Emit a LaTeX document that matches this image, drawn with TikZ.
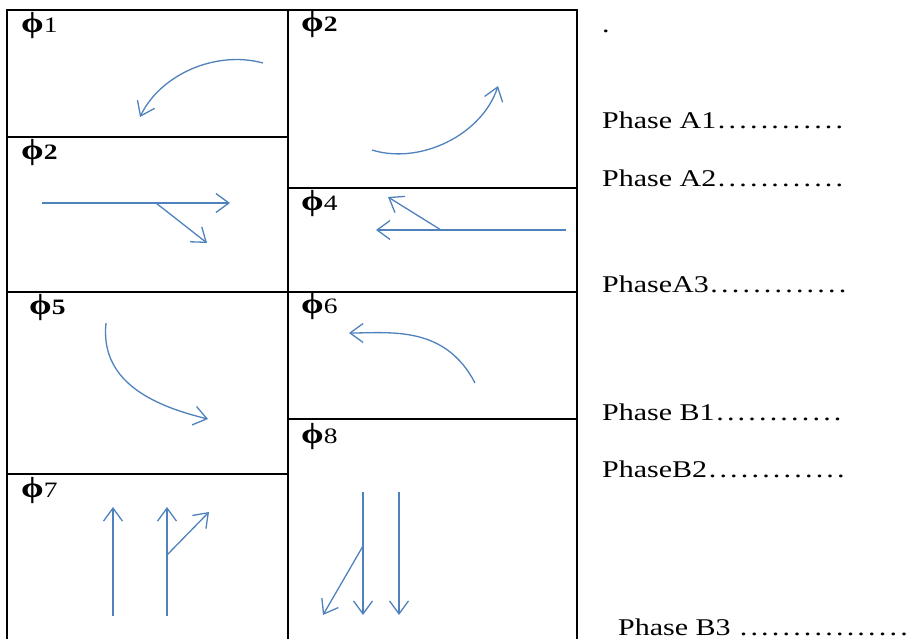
\documentclass[tikz,border=0pt]{standalone}
\usepackage{fontspec}
\setmainfont{Liberation Serif}[FakeStretch=1.25]
\usepackage{xcolor}
\usetikzlibrary{arrows.meta}

\definecolor{laneblue}{RGB}{79,129,189}
\newcommand\phasedots[1]{\hbox to #1\dimexpr10.7pt\relax{\xleaders\hbox to 10.7pt{\hss.\hss}\hfill}}
\newcommand\phig{{\fontsize{29}{30}\selectfont\bfseries ϕ}}

\begin{document}
\begin{tikzpicture}[
    x=1pt, y=-1pt,
    grid/.style={draw=black, line width=1.2pt},
    lane/.style={draw=laneblue, line width=1.3pt, -{Straight Barb[length=13pt,width=19pt]}},
    tag/.style={anchor=base west, inner sep=0pt, font=\fontsize{22}{26}\selectfont},
    phase/.style={anchor=base west, inner sep=0pt, font=\fontsize{24}{28}\selectfont}
]
\useasboundingbox (0,0) rectangle (912,639);
% table frame
\draw[grid] (7,639) -- (7,10) -- (577,10) -- (577,639);
\draw[grid] (288,10) -- (288,639);
\draw[grid] (7,137) -- (288,137);
\draw[grid] (7,292) -- (577,292);
\draw[grid] (7,474) -- (288,474);
\draw[grid] (288,188) -- (577,188);
\draw[grid] (288,419) -- (577,419);

% phase tags
\node[tag] (t1) at (21,33) {\phig1};
\node[tag] (t2a) at (21,160) {\phig\textbf{2}};
\node[tag] (t2b) at (301,32) {\phig\textbf{2}};
\node[tag] (t4) at (301,211) {\phig4};
\node[tag] (t5) at (29,314) {\phig\textbf{5}};
\node[tag] (t6) at (301,313) {\phig6};
\node[tag] (t7) at (21,497) {\phig7};
\node[tag] (t8) at (301,443) {\phig8};

% movements
\draw[lane] (263,63) .. controls (215,50) and (160,75) .. (140,117);
\draw[lane] (42,203) -- (230,203);
\draw[lane] (156,203) -- (207,243);
\draw[lane] (372,150) .. controls (420,165) and (482,135) .. (498,86);
\draw[lane] (566,230) -- (376,230);
\draw[lane] (441,230) -- (388,197);
\draw[lane] (106,323) .. controls (100,380) and (150,405) .. (208,419);
\draw[lane] (475,383) .. controls (445,325) and (390,333) .. (349,333);
\draw[lane] (113,616) -- (113,507);
\draw[lane] (167,616) -- (167,507);
\draw[lane] (167,555) -- (209,512);
\draw[lane] (363,492) -- (363,615);
\draw[lane] (399,492) -- (399,615);
\draw[lane] (363,546) -- (323,615);

% phase list
\node[phase] (dot) at (602,33) {.};
\node[phase] (a1) at (602,129) {Phase A1\phasedots{12}};
\node[phase] (a2) at (602,186) {Phase A2\phasedots{12}};
\node[phase] (a3) at (602,292) {PhaseA3\phasedots{13}};
\node[phase] (b1) at (602,420) {Phase B1\phasedots{12}};
\node[phase] (b2) at (602,477) {PhaseB2\phasedots{13}};
\node[phase] (b3) at (618,635) {Phase B3 \phasedots{16}};
\end{tikzpicture}
\end{document}
